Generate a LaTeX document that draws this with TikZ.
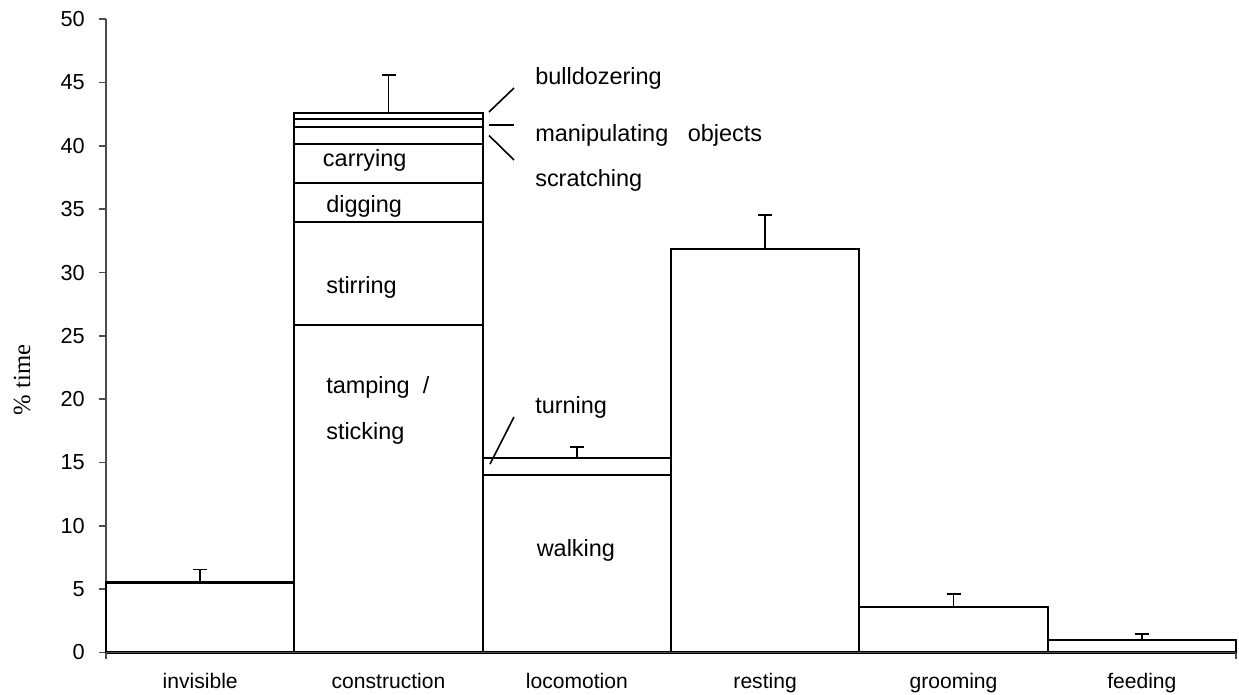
\documentclass[tikz,border=0pt]{standalone}
\usepackage{fontspec}
\setmainfont{Liberation Sans}
\newfontfamily\serifx{Liberation Serif}
\begin{document}
\begin{tikzpicture}[x=0.75pt,y=-0.75pt,
  barline/.style={draw=black,line width=1.6pt},
  segline/.style={draw=black,line width=1.6pt},
  errline/.style={draw=black,line width=1.3pt},
  axisline/.style={draw=black!70,line width=1.2pt},
  leader/.style={draw=black,line width=1.2pt},
  barlbl/.style={anchor=base west,inner sep=0pt,font=\fontsize{17.6}{20}\selectfont},
  ticklbl/.style={anchor=east,inner sep=0pt,font=\fontsize{16.3}{18}\selectfont},
  catlbl/.style={anchor=base,inner sep=0pt,font=\fontsize{15.8}{18}\selectfont}]
\useasboundingbox (0,0) rectangle (1239,695);
% y axis
\draw[axisline] (106,19.3) -- (106,652.5);
\foreach \v [evaluate=\v as \yy using 652.5-12.664*\v] in {0,5,...,50}{
  \draw[axisline] (99,\yy) -- (106,\yy);
  \node[ticklbl] (t\v) at (85,\yy) {\v};
}
\node[rotate=90,inner sep=0pt,font=\serifx\fontsize{18.5}{20}\selectfont] (ylab) at (22,380) {\% time};
% bars
\draw[barline] (106,652.5) rectangle (294.3,582.5);
\draw[barline] (294.3,652.5) rectangle (482.7,112.7);
\draw[barline] (482.7,652.5) rectangle (671,457.7);
\draw[barline] (671,652.5) rectangle (859.3,249.3);
\draw[barline] (859.3,652.5) rectangle (1047.7,607.3);
\draw[barline] (1047.7,652.5) rectangle (1236,640);
% x axis
\draw[axisline] (106,652.5) -- (1236,652.5);
\draw[axisline] (106,652.5) -- (106,659);
\draw[axisline] (1236,652.5) -- (1236,659);
% construction segments
\foreach \yy in {119.3,126.7,144.3,183.3,222,325}{
  \draw[segline] (294.3,\yy) -- (482.7,\yy);
}
% locomotion segment
\draw[segline] (482.7,475) -- (671,475);
% error bars
\foreach \cx/\top/\cap in {200.2/582.5/569.5, 388.5/112.7/75, 576.8/457.7/446.7, 765.1/249.3/215, 953.5/607.3/594.3, 1141.8/640/634}{
  \draw[errline] (\cx,\top) -- (\cx,\cap);
  \draw[errline] (\cx-7,\cap) -- (\cx+7,\cap);
}
% bar labels
\node[barlbl] (carrying) at (322.7,167) {carrying};
\node[barlbl] (digging) at (326,213) {digging};
\node[barlbl] (stirring) at (326,293.5) {stirring};
\node[barlbl] (tamping) at (326,393.5) {tamping\ \ /};
\node[barlbl] (sticking) at (326,439) {sticking};
\node[barlbl] (walking) at (536.5,556) {walking};
\node[barlbl] (turning) at (535,413.3) {turning};
\node[barlbl] (bulldozering) at (535,85) {bulldozering};
\node[barlbl] (manip) at (535,141.7) {manipulating\ \ \ objects};
\node[barlbl] (scratching) at (535,186.7) {scratching};
% leaders
\coordinate (b1) at (489,112); \coordinate (b2) at (514,88);
\coordinate (m1) at (489,125); \coordinate (m2) at (514,125);
\coordinate (s1) at (489,135.5); \coordinate (s2) at (514,160);
\coordinate (r1) at (490,464); \coordinate (r2) at (514,417);
\draw[leader] (b1) -- (b2);
\draw[leader] (m1) -- (m2);
\draw[leader] (s1) -- (s2);
\draw[leader] (r1) -- (r2);
% category labels
\node[catlbl] (c1) at (200.2,688) {invisible};
\node[catlbl] (c2) at (388.5,688) {construction};
\node[catlbl] (c3) at (576.8,688) {locomotion};
\node[catlbl] (c4) at (765.1,688) {resting};
\node[catlbl] (c5) at (953.5,688) {grooming};
\node[catlbl] (c6) at (1141.8,688) {feeding};
\end{tikzpicture}
\end{document}
